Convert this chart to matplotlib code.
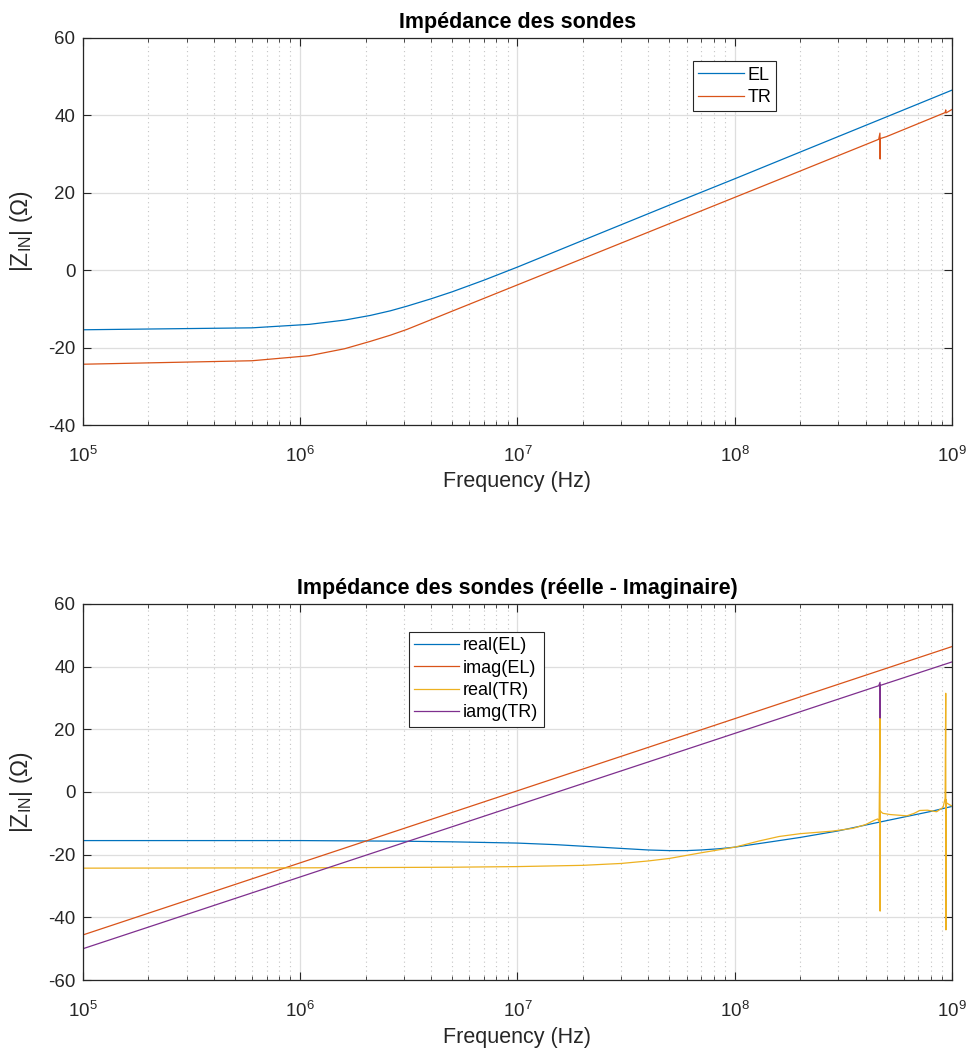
import matplotlib
matplotlib.use('Agg')
import matplotlib.pyplot as plt

plt.rcParams['font.family'] = ['Liberation Sans', 'DejaVu Sans']
plt.rcParams['mathtext.fontset'] = 'custom'
plt.rcParams['mathtext.rm'] = 'Liberation Sans'

# couleurs matlab par defaut
c_bleu = '#0072BD'
c_orange = '#D95319'
c_jaune = '#EDB120'
c_violet = '#7E2F8E'

# --- module (dB) ---
f_el = [1e5, 6e5, 1.1e6, 1.6e6, 2.1e6, 2.6e6, 3.1e6, 4e6, 5e6, 7e6, 1e7, 2e7, 5e7, 1e8, 2e8, 5e8, 1e9]
z_el = [-15.4, -14.9, -14.0, -12.9, -11.7, -10.5, -9.3, -7.4, -5.6, -2.6, 0.8, 7.7, 16.8, 23.6, 30.5, 39.6, 46.5]

f_tr = [1e5, 6e5, 1.1e6, 1.6e6, 2.1e6, 2.6e6, 3.1e6, 4e6, 5e6, 7e6, 1e7, 2e7, 5e7, 1e8, 2e8,
        4.6e8, 4.66e8, 4.67e8, 4.68e8, 5e8, 9.3e8, 9.36e8, 9.38e8, 1e9]
z_tr = [-24.3, -23.4, -22.1, -20.3, -18.4, -16.8, -15.3, -12.8, -10.6, -7.3, -3.8, 3.0, 12.0, 18.8, 25.6,
        33.8, 35.4, 28.7, 34.0, 34.5, 40.7, 41.4, 40.6, 41.5]

# --- reel / imaginaire ---
f_re_el = [1e5, 1e6, 3e6, 5e6, 1e7, 1.5e7, 2e7, 3e7, 4e7, 5e7, 6e7, 7e7, 8.5e7, 1e8, 1.5e8, 2e8,
           3e8, 4.5e8, 6e8, 8e8, 1e9]
re_el = [-15.5, -15.5, -15.7, -15.9, -16.3, -16.8, -17.3, -18.0, -18.5, -18.7, -18.7, -18.5, -18.1, -17.6,
         -15.8, -14.5, -12.4, -9.8, -8.0, -6.2, -4.6]

f_im_el = [1e5, 1e6, 1e7, 1e8, 1e9]
im_el = [-45.6, -22.6, 0.4, 23.4, 46.4]

f_re_tr = [1e5, 1e6, 5e6, 1e7, 2e7, 3e7, 4e7, 5e7, 7e7, 1e8, 1.3e8, 1.6e8, 2e8, 2.8e8, 3.5e8, 4e8, 4.4e8,
           4.55e8, 4.62e8, 4.665e8, 4.67e8, 4.675e8, 4.7e8, 4.8e8, 5.2e8, 6.2e8, 6.7e8, 7.1e8, 7.7e8,
           8.5e8, 9.1e8, 9.3e8, 9.36e8, 9.38e8, 9.4e8, 9.45e8, 9.6e8, 1e9]
re_tr = [-24.3, -24.2, -24.0, -23.8, -23.4, -22.8, -22.0, -21.2, -19.4, -17.6, -15.6, -14.2, -13.3, -12.5,
         -11.6, -10.4, -9.0, -8.6, -9.4, 24.0, -38.0, -6.0, -6.2, -6.8, -7.2, -7.6, -6.8, -5.9, -5.8,
         -6.3, -4.9, -2.0, 31.5, -44.0, -2.5, -3.5, -3.8, -4.5]

f_im_tr = [1e5, 1e6, 1e7, 1e8, 4.6e8, 4.665e8, 4.67e8, 4.675e8, 1e9]
im_tr = [-50.0, -27.1, -4.2, 18.7, 33.9, 35.0, 23.6, 34.0, 41.5]

fig = plt.figure(figsize=(9.72, 10.52), dpi=100)
ax1 = fig.add_axes([0.0854, 0.596, 0.894, 0.368])
ax2 = fig.add_axes([0.0854, 0.0684, 0.894, 0.3575])


def style(ax, ymin, ymax, yticks):
    ax.set_xscale('log')
    ax.set_xlim(1e5, 1e9)
    ax.set_ylim(ymin, ymax)
    ax.set_xticks([1e5, 1e6, 1e7, 1e8, 1e9])
    ax.set_yticks(yticks)
    ax.set_yticklabels([str(v) for v in yticks])
    ax.grid(True, which='major', color='#dedede', linewidth=0.9)
    ax.grid(True, which='minor', axis='x', color='#c4c4c4', linestyle=(0, (1, 3)), linewidth=0.8)
    ax.set_axisbelow(True)
    ax.tick_params(which='both', direction='in', top=True, right=True, colors='#262626', labelsize=13.5)
    ax.tick_params(which='major', length=6, width=0.8)
    ax.tick_params(which='minor', length=3, width=0.6)
    ax.tick_params(axis='x', pad=15)
    ax.tick_params(axis='y', pad=5.5)
    for s in ax.spines.values():
        s.set_color('#262626')
        s.set_linewidth(0.9)
    ax.set_xlabel('Frequency (Hz)', fontsize=15.5, color='#262626', labelpad=4)
    ax.set_ylabel(r'|Z$_\mathregular{IN}$| (Ω)', fontsize=16.5, color='#262626', labelpad=9)


ax1.plot(f_el, z_el, color=c_bleu, linewidth=0.9, label='EL')
ax1.plot(f_tr, z_tr, color=c_orange, linewidth=0.9, label='TR')
style(ax1, -40, 60, [-40, -20, 0, 20, 40, 60])
ax1.set_title('Impédance des sondes', fontsize=15.5, fontweight='bold', pad=7)
leg = ax1.legend(loc='upper left', bbox_to_anchor=(0.702, 0.94), fontsize=13, fancybox=False,
                 framealpha=1, edgecolor='#262626', handlelength=2.5, handletextpad=0.2,
                 labelspacing=0.3, borderpad=0.3, borderaxespad=0)
leg.get_frame().set_linewidth(0.8)

ax2.plot(f_re_el, re_el, color=c_bleu, linewidth=0.9, label='real(EL)')
ax2.plot(f_im_el, im_el, color=c_orange, linewidth=0.9, label='imag(EL)')
ax2.plot(f_re_tr, re_tr, color=c_jaune, linewidth=0.9, label='real(TR)')
ax2.plot(f_im_tr, im_tr, color=c_violet, linewidth=0.9, label='iamg(TR)')
style(ax2, -60, 60, [-60, -40, -20, 0, 20, 40, 60])
ax2.set_title('Impédance des sondes (réelle - Imaginaire)', fontsize=15.5, fontweight='bold', pad=7)
leg = ax2.legend(loc='upper left', bbox_to_anchor=(0.375, 0.926), fontsize=13, fancybox=False,
                 framealpha=1, edgecolor='#262626', handlelength=2.5, handletextpad=0.2,
                 labelspacing=0.3, borderpad=0.3, borderaxespad=0)
leg.get_frame().set_linewidth(0.8)

fig.savefig('out.png', dpi=100)
